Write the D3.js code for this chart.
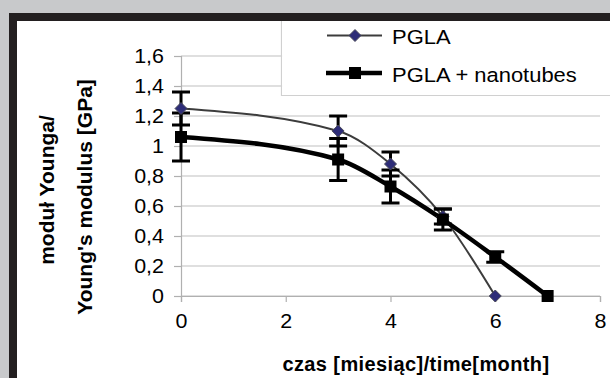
<!DOCTYPE html>
<html><head><meta charset="utf-8">
<script src="https://cdn.jsdelivr.net/npm/d3@7"></script>
<style>
html,body{margin:0;padding:0;background:#c8c9cb;overflow:hidden;width:610px;height:378px;}
svg{display:block;}
text{font-family:"Liberation Sans",Arial,sans-serif;fill:#000;}
</style></head>
<body>
<svg id="chart" width="610" height="378" viewBox="0 0 610 378"></svg>
<script>
// ---- data ----
const pglaMonths = [0, 3, 4, 5, 6];
const pglaValues = [1.25, 1.10, 0.88, 0.53, 0];
const pglaErrors = [0.11, 0.10, 0.08, 0.05, 0];

const nanoMonths = [0, 3, 4, 5, 6, 7];
const nanoValues = [1.06, 0.91, 0.73, 0.51, 0.26, 0];
const nanoErrors = [0.16, 0.14, 0.11, 0.07, 0.035, 0];

const xTicks = [0, 2, 4, 6, 8];
const yTicks = [0, 0.2, 0.4, 0.6, 0.8, 1, 1.2, 1.4, 1.6];
const seriesNames = ["PGLA", "PGLA + nanotubes"];
const yTitle = ["moduł Younga/", "Young's modulus [GPa]"];
const xTitle = "czas [miesiąc]/time[month]";

const W = 610, H = 378;
const svg = d3.select("#chart");

// background + frame (no right/bottom border)
svg.append("rect").attr("x", 0).attr("y", 0).attr("width", W).attr("height", H).attr("fill", "#c8c9cb");
svg.append("rect").attr("x", 9).attr("y", 13).attr("width", W - 9).attr("height", H - 13).attr("fill", "#231f20");
svg.append("rect").attr("x", 17).attr("y", 21).attr("width", W - 17).attr("height", H - 21).attr("fill", "#fff");

const x = d3.scaleLinear().domain([0, 8]).range([181, 600]);
const y = d3.scaleLinear().domain([0, 1.6]).range([296, 56]);

const fmt = d => d === 0 ? "0" : (d === 1 ? "1" : d3.format(".1f")(d).replace(".", ","));

function widen(sel, k) {
  sel.each(function () {
    const w = this.getComputedTextLength();
    d3.select(this).attr("textLength", w * k).attr("lengthAdjust", "spacingAndGlyphs");
  });
}

// gridlines
svg.append("g").selectAll("line").data(yTicks).join("line")
  .attr("x1", x(0)).attr("x2", x(8))
  .attr("y1", d => y(d)).attr("y2", d => y(d))
  .attr("stroke", "#c0c0c0").attr("stroke-width", 1.2);

// y axis
const yAxis = svg.append("g").attr("transform", `translate(${x(0)},0)`)
  .call(d3.axisLeft(y).tickValues(yTicks).tickFormat(fmt).tickSize(7).tickPadding(10));
yAxis.select(".domain").attr("stroke", "#b0b0b0").attr("stroke-width", 1.2);
yAxis.selectAll(".tick line").attr("stroke", "#b0b0b0").attr("stroke-width", 1.2);
yAxis.selectAll("text").attr("font-size", 19.5).attr("font-family", "Liberation Sans, Arial").attr("fill", "#000");
widen(yAxis.selectAll("text"), 1.1);

// x axis
const xAxis = svg.append("g").attr("transform", `translate(0,${y(0)})`)
  .call(d3.axisBottom(x).tickValues(xTicks).tickFormat(d3.format("d")).tickSize(6).tickPadding(12));
xAxis.select(".domain").attr("stroke", "#b0b0b0").attr("stroke-width", 1.2);
xAxis.selectAll(".tick line").attr("stroke", "#b0b0b0").attr("stroke-width", 1.2);
xAxis.selectAll("text").attr("font-size", 19.5).attr("font-family", "Liberation Sans, Arial").attr("fill", "#000");
widen(xAxis.selectAll("text"), 1.1);

// lines (smoothed)
const line = d3.line().x(d => x(d[0])).y(d => y(d[1])).curve(d3.curveMonotoneX);
const pglaPts = pglaMonths.map((m, i) => [m, pglaValues[i], pglaErrors[i]]);
const nanoPts = nanoMonths.map((m, i) => [m, nanoValues[i], nanoErrors[i]]);

svg.append("path").datum(pglaPts).attr("d", line).attr("fill", "none")
  .attr("stroke", "#3c3c3c").attr("stroke-width", 2);
svg.append("path").datum(nanoPts).attr("d", line).attr("fill", "none")
  .attr("stroke", "#000").attr("stroke-width", 4.5);

// error bars
function errBars(pts) {
  const g = svg.append("g").attr("stroke", "#000").attr("stroke-width", 3);
  pts.filter(d => d[2] > 0).forEach(d => {
    const cx = x(d[0]);
    g.append("line").attr("x1", cx).attr("x2", cx).attr("y1", y(d[1] + d[2])).attr("y2", y(d[1] - d[2]));
    g.append("line").attr("x1", cx - 9).attr("x2", cx + 9).attr("y1", y(d[1] + d[2])).attr("y2", y(d[1] + d[2]));
    g.append("line").attr("x1", cx - 9).attr("x2", cx + 9).attr("y1", y(d[1] - d[2])).attr("y2", y(d[1] - d[2]));
  });
}
errBars(pglaPts);
errBars(nanoPts);

// markers
const diamond = (cx, cy, r) => `M${cx},${cy - r}L${cx + r},${cy}L${cx},${cy + r}L${cx - r},${cy}Z`;
svg.append("g").selectAll("path").data(pglaPts).join("path")
  .attr("d", d => diamond(x(d[0]), y(d[1]), 6))
  .attr("fill", "#2e2d78").attr("stroke", "#4a4a5a").attr("stroke-width", 1);
svg.append("g").selectAll("rect").data(nanoPts).join("rect")
  .attr("x", d => x(d[0]) - 6).attr("y", d => y(d[1]) - 6)
  .attr("width", 12).attr("height", 12).attr("fill", "#000");

// legend (box runs off the right edge)
svg.append("path").attr("d", `M${W + 5},95.5H281.5V21`)
  .attr("fill", "none").attr("stroke", "#d0d0d0").attr("stroke-width", 1.2);
svg.append("rect").attr("x", 282.1).attr("y", 21).attr("width", W - 282).attr("height", 73.9).attr("fill", "#fff");

const leg = svg.append("g");
leg.append("line").attr("x1", 327).attr("x2", 382).attr("y1", 35.5).attr("y2", 35.5)
  .attr("stroke", "#3c3c3c").attr("stroke-width", 2);
leg.append("path").attr("d", diamond(355, 35.5, 6)).attr("fill", "#2e2d78").attr("stroke", "#4a4a5a");
leg.append("text").attr("x", 392).attr("y", 43.5).attr("font-size", 20.5).text(seriesNames[0]);
leg.append("line").attr("x1", 326).attr("x2", 382).attr("y1", 73).attr("y2", 73)
  .attr("stroke", "#000").attr("stroke-width", 4.5);
leg.append("rect").attr("x", 349).attr("y", 67).attr("width", 12).attr("height", 12).attr("fill", "#000");
leg.append("text").attr("x", 392).attr("y", 82).attr("font-size", 20.5).text(seriesNames[1]);
widen(leg.selectAll("text"), 1.07);

// axis titles
svg.append("text").attr("transform", "translate(54,190) rotate(-90)")
  .attr("text-anchor", "middle").attr("font-weight", "bold").attr("font-size", 21).text(yTitle[0]);
svg.append("text").attr("transform", "translate(92,197) rotate(-90)")
  .attr("text-anchor", "middle").attr("font-weight", "bold").attr("font-size", 21).text(yTitle[1]);
svg.append("text").attr("x", 416).attr("y", 371)
  .attr("text-anchor", "middle").attr("font-weight", "bold").attr("font-size", 20)
  .attr("letter-spacing", 0.4).text(xTitle);
</script>
</body></html>
